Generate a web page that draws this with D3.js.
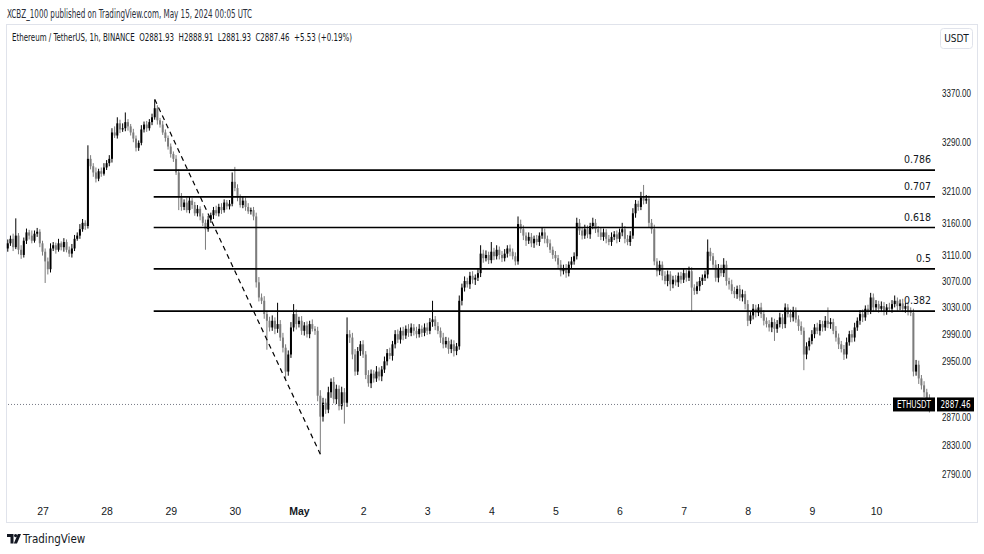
<!DOCTYPE html>
<html>
<head>
<meta charset="utf-8">
<script src="https://cdn.jsdelivr.net/npm/d3@7"></script>
<style>
  html, body { margin: 0; padding: 0; background: #fff; }
  svg { display: block; font-family: "Liberation Sans Narrow", "DejaVu Sans Condensed", "Roboto", sans-serif; }
</style>
</head>
<body>
<svg id="chart" width="984" height="554"></svg>
<script>
// ETHUSDT 1h, Binance — hourly closes from 2024-04-26 11:00 UTC
const firstOpen = 3120;
const closes = [
  // Apr 26 (11:00-23:00)
  3128,3135,3122,3140,3118,3110,3132,3145,3140,3132,3143,3146,3128,
  // Apr 27
  3115,3100,3088,3120,3125,3118,3128,3122,3130,3118,3112,3120,3135,3140,3150,3160,3155,3262,3250,3240,3230,3242,3238,3248,
  // Apr 28
  3255,3262,3305,3300,3320,3310,3312,3322,3315,3305,3295,3280,3288,3310,3318,3312,3322,3330,3345,3325,3318,3305,3296,3282,
  // Apr 29
  3270,3262,3240,3200,3185,3192,3180,3195,3188,3175,3182,3170,3160,3150,3165,3172,3180,3175,3185,3180,3192,3186,3190,3225,
  // Apr 30
  3215,3200,3188,3195,3185,3178,3180,3170,3068,3045,3040,3020,3010,3000,3010,2998,3005,2985,2970,2935,2960,3000,3020,3005,
  // May 1
  3010,2995,3003,2990,3005,2998,2995,2900,2870,2890,2880,2905,2920,2895,2910,2885,2905,2890,2990,2985,2960,2935,2965,2975,
  // May 2
  2960,2930,2918,2932,2925,2935,2928,2938,2950,2962,2958,2975,2990,2982,2995,2988,2998,2992,3000,2995,2990,2998,2992,3000,
  // May 3
  2995,3008,3012,3002,2995,2985,2975,2980,2968,2975,2965,2972,3040,3060,3070,3065,3078,3072,3075,3082,3112,3105,3110,3102,
  // May 4
  3115,3108,3118,3110,3105,3112,3120,3115,3108,3100,3158,3150,3140,3132,3138,3128,3135,3130,3140,3145,3135,3128,3118,3110,
  // May 5
  3105,3095,3085,3090,3082,3095,3100,3108,3160,3148,3140,3150,3142,3155,3160,3150,3145,3138,3145,3135,3130,3138,3142,3135,
  // May 6
  3145,3150,3135,3130,3140,3175,3190,3185,3200,3195,3198,3160,3150,3100,3085,3095,3078,3070,3080,3065,3072,3068,3078,3072,
  // May 7
  3082,3075,3085,3060,3055,3062,3070,3075,3080,3115,3108,3095,3075,3090,3082,3095,3070,3065,3055,3050,3058,3045,3050,3035,
  // May 8
  3010,3018,3028,3022,3030,3020,3010,3005,3000,3008,2998,3005,3015,3005,3030,3020,3015,3025,3012,3002,2995,2960,2972,2980,
  // May 9
  2990,3000,2995,3005,3000,3010,3005,3008,2995,2985,2975,2968,2960,2978,2990,2985,3000,3010,3020,3015,3028,3025,3045,3030,
  // May 10 (00:00-21:00)
  3035,3028,3032,3025,3030,3028,3035,3040,3032,3036,3028,3032,3025,3022,2935,2945,2925,2915,2905,2895,2881.93,2887.46
];
// upper wick above the body top, in USDT
const wickUp = [
  6,5,8,27,4,7,5,6,4,8,5,6,4,
  4,5,6,8,5,4,7,3,6,4,5,7,6,5,8,6,4,22,6,5,8,4,6,7,
  5,6,7,10,10,6,8,16,5,4,6,5,4,7,5,6,5,6,14,5,4,6,5,4,
  5,4,6,5,7,5,8,6,4,5,6,4,5,5,6,4,5,7,5,6,5,4,6,15,
  24,6,5,7,5,6,4,5,6,8,6,7,5,6,8,5,32,6,7,5,6,8,15,7,
  6,7,5,6,5,7,4,6,8,7,6,8,5,7,6,5,8,6,25,6,7,8,6,5,
  6,5,7,6,5,8,6,5,7,6,8,5,6,7,5,6,5,7,6,5,6,7,5,6,
  7,6,28,5,6,5,7,6,5,7,6,5,8,6,7,5,6,7,5,6,13,6,7,5,
  15,6,7,5,6,7,5,6,5,6,12,7,6,5,7,6,5,6,5,8,6,5,6,5,
  6,5,7,5,6,5,7,6,8,6,5,7,6,5,8,6,5,7,6,5,6,7,5,6,
  6,10,5,6,7,8,6,5,9,20,6,5,6,7,5,6,5,7,6,5,6,7,5,6,
  6,5,7,6,5,7,6,5,6,19,6,5,7,6,5,10,6,5,7,6,5,6,7,5,
  6,5,7,6,5,7,6,5,6,7,5,6,7,5,6,5,7,6,5,6,7,5,6,5,
  6,5,7,6,5,7,20,6,5,7,6,5,6,7,5,6,7,5,6,7,5,6,7,6,
  6,5,7,6,5,7,6,8,5,6,7,5,6,5,6,7,6,5,6,5,7,1.45
];
// lower wick below the body bottom, in USDT
const wickDown = [
  5,4,6,3,7,6,4,5,6,4,3,5,6,
  6,33,8,5,4,6,3,5,7,4,5,6,4,3,5,4,6,4,5,7,6,4,5,3,
  4,5,6,4,5,6,4,5,7,5,6,6,5,4,5,6,4,5,4,7,5,4,6,5,
  6,5,4,20,6,5,4,5,6,4,5,6,5,32,4,5,6,4,5,6,4,5,5,4,
  5,6,4,5,6,4,5,6,8,6,5,7,43,6,5,8,6,5,7,12,6,5,6,8,
  5,6,7,5,6,4,6,8,53,7,6,5,8,6,7,6,5,30,6,8,7,6,5,7,
  5,6,5,7,6,5,6,7,5,6,5,7,6,5,6,7,5,6,5,7,6,5,6,5,
  6,5,7,6,5,8,6,5,7,6,8,6,5,7,6,5,7,6,8,5,6,7,5,6,
  5,6,5,7,6,5,6,7,5,6,5,6,7,8,5,6,7,5,6,5,7,6,5,6,
  5,6,8,5,7,5,6,5,5,7,6,5,6,7,5,6,7,5,6,7,5,6,5,7,
  5,6,7,5,6,5,7,6,5,6,5,8,7,6,8,6,7,5,8,10,6,5,7,6,
  5,6,5,35,6,5,7,6,5,6,7,5,6,7,5,6,7,8,5,6,7,5,6,8,
  8,5,6,7,5,6,7,5,6,7,18,6,5,7,6,5,7,6,5,7,6,23,7,6,
  5,6,5,7,6,5,6,7,5,6,7,5,8,6,5,7,6,5,6,7,5,6,5,7,
  5,6,5,7,6,5,6,5,7,6,5,6,7,5,7,6,8,6,7,5,6,0
];

const priceTicks = [3370, 3290, 3210, 3160, 3110, 3070, 3030, 2990, 2950, 2870, 2830, 2790];
const dayTicks = [27, 28, 29, 30, 1, 2, 3, 4, 5, 6, 7, 8, 9, 10];
const dayLabels = ["27", "28", "29", "30", "May", "2", "3", "4", "5", "6", "7", "8", "9", "10"];

// fib retracement drawn from the Apr 28 high to the May 1 low
const fibHigh = 3360, fibLow = 2817;
const fibLevels = [0.382, 0.5, 0.618, 0.707, 0.786];
const fibLabels = ["0.382", "0.5", "0.618", "0.707", "0.786"];

const lastPrice = 2887.46;

const W = 984, H = 554;
const svg = d3.select("#chart");
const hour = 3600e3;
const t0 = Date.UTC(2024, 3, 26, 11);

const candles = closes.map((c, i) => {
  const o = i === 0 ? firstOpen : closes[i - 1];
  return {
    t: new Date(t0 + i * hour),
    o: o, c: c,
    h: Math.max(o, c) + wickUp[i],
    l: Math.min(o, c) - wickDown[i]
  };
});

const x = d3.scaleTime()
  .domain([new Date(Date.UTC(2024, 3, 27)), new Date(Date.UTC(2024, 4, 10))])
  .range([42.5, 876]);
const y = d3.scaleLog()
  .domain([2800, 3400])
  .range([466.4, 75.4]);

const plotRight = 936;

svg.append("rect").attr("width", W).attr("height", H).attr("fill", "#fff");

// header
svg.append("text")
  .attr("x", 7).attr("y", 18)
  .attr("font-size", 12).attr("fill", "#2a2e39")
  .attr("textLength", 245).attr("lengthAdjust", "spacingAndGlyphs")
  .text("XCBZ_1000 published on TradingView.com, May 15, 2024 00:05 UTC");

// chart frame
svg.append("rect")
  .attr("x", 6.5).attr("y", 24.5).attr("width", 971).attr("height", 498)
  .attr("fill", "#fff").attr("stroke", "#e0e3eb");

svg.append("text")
  .attr("x", 12).attr("y", 41)
  .attr("font-size", 11).attr("fill", "#131722")
  .attr("textLength", 340).attr("lengthAdjust", "spacingAndGlyphs")
  .attr("xml:space", "preserve")
  .text("Ethereum / TetherUS, 1h, BINANCE  O2881.93  H2888.91  L2881.93  C2887.46  +5.53 (+0.19%)");

// USDT button
svg.append("rect")
  .attr("x", 940.5).attr("y", 28.5).attr("width", 32).attr("height", 20).attr("rx", 3)
  .attr("fill", "#fff").attr("stroke", "#e0e3eb");
svg.append("text")
  .attr("x", 956.5).attr("y", 42).attr("text-anchor", "middle")
  .attr("font-size", 10).attr("fill", "#131722").text("USDT");

// price axis
const yAxis = d3.axisRight(y).tickValues(priceTicks).tickFormat(d3.format(".2f")).tickSize(0);
const gy = svg.append("g").attr("transform", `translate(${plotRight},0)`).call(yAxis);
gy.select(".domain").remove();
gy.selectAll("text").attr("x", 35).attr("text-anchor", "end")
  .attr("font-size", 11).attr("fill", "#131722").attr("font-family", null)
  .attr("textLength", 29).attr("lengthAdjust", "spacingAndGlyphs");

// time axis
const xAxis = d3.axisBottom(x)
  .tickValues(dayTicks.map((d, i) => new Date(Date.UTC(2024, i < 4 ? 3 : 4, d))))
  .tickFormat((d, i) => dayLabels[i]).tickSize(0);
const gx = svg.append("g").attr("transform", "translate(0,505)").call(xAxis);
gx.select(".domain").remove();
gx.selectAll("text").attr("font-size", 10.5).attr("fill", "#131722").attr("font-family", null)
  .attr("font-weight", (d, i) => dayLabels[i] === "May" ? "bold" : null);

// candles
const plot = svg.append("g");
const upColor = "#000000", downColor = "#7c7c7c";
const bodyW = 2;

plot.selectAll("line.wick").data(candles).join("line")
  .attr("class", "wick")
  .attr("x1", d => x(d.t)).attr("x2", d => x(d.t))
  .attr("y1", d => y(d.h)).attr("y2", d => y(d.l))
  .attr("stroke", d => d.c >= d.o ? upColor : downColor)
  .attr("stroke-width", 1);

plot.selectAll("rect.body").data(candles).join("rect")
  .attr("class", "body")
  .attr("x", d => x(d.t) - bodyW / 2)
  .attr("width", bodyW)
  .attr("y", d => y(Math.max(d.o, d.c)))
  .attr("height", d => Math.max(1, y(Math.min(d.o, d.c)) - y(Math.max(d.o, d.c))))
  .attr("fill", d => d.c >= d.o ? upColor : downColor);

// fib tool: trend line + levels
const tHigh = candles.find(d => d.h === d3.max(candles, c => c.h)).t;
const tLow = candles.find(d => d.l === d3.min(candles, c => c.l)).t;

svg.append("line")
  .attr("x1", x(tHigh)).attr("y1", y(fibHigh))
  .attr("x2", x(tLow)).attr("y2", y(fibLow))
  .attr("stroke", "#000").attr("stroke-width", 1.2).attr("stroke-dasharray", "5,4");

const fibG = svg.append("g");
fibLevels.forEach((lv, i) => {
  const p = fibLow + lv * (fibHigh - fibLow);
  fibG.append("line")
    .attr("x1", x(tHigh) - 1).attr("x2", plotRight - 1)
    .attr("y1", y(p)).attr("y2", y(p))
    .attr("stroke", "#000").attr("stroke-width", 1.6);
  fibG.append("text")
    .attr("x", 931).attr("y", y(p) - 7)
    .attr("text-anchor", "end").attr("font-size", 10.5).attr("fill", "#131722")
    .text(fibLabels[i]);
});

// last price line and labels
const yLast = y(lastPrice);
svg.append("line")
  .attr("x1", 8).attr("x2", 893).attr("y1", yLast).attr("y2", yLast)
  .attr("stroke", "#787b86").attr("stroke-width", 1).attr("stroke-dasharray", "1,2");
svg.append("rect").attr("x", 893).attr("y", yLast - 7).attr("width", 42).attr("height", 14)
  .attr("fill", "#000");
svg.append("text").attr("x", 914).attr("y", yLast + 4).attr("text-anchor", "middle")
  .attr("font-size", 10.5).attr("fill", "#fff")
  .attr("textLength", 34).attr("lengthAdjust", "spacingAndGlyphs").text("ETHUSDT");
svg.append("rect").attr("x", 937).attr("y", yLast - 7).attr("width", 37).attr("height", 14)
  .attr("fill", "#000");
svg.append("text").attr("x", 955.5).attr("y", yLast + 4).attr("text-anchor", "middle")
  .attr("font-size", 10.5).attr("fill", "#fff")
  .attr("textLength", 30).attr("lengthAdjust", "spacingAndGlyphs").text(d3.format(".2f")(lastPrice));

// TradingView footer logo
const logo = svg.append("g").attr("transform", "translate(7,534)").attr("fill", "#131722");
logo.append("path").attr("d", "M0,0 H6.5 V9.5 H3.5 V3 H0 Z");
logo.append("circle").attr("cx", 8.6).attr("cy", 1.6).attr("r", 1.6);
logo.append("path").attr("d", "M10.8,0 H14 L10,9.5 H6.8 Z");
svg.append("text").attr("x", 23).attr("y", 543)
  .attr("font-size", 11.5).attr("fill", "#131722").text("TradingView");
</script>
</body>
</html>
